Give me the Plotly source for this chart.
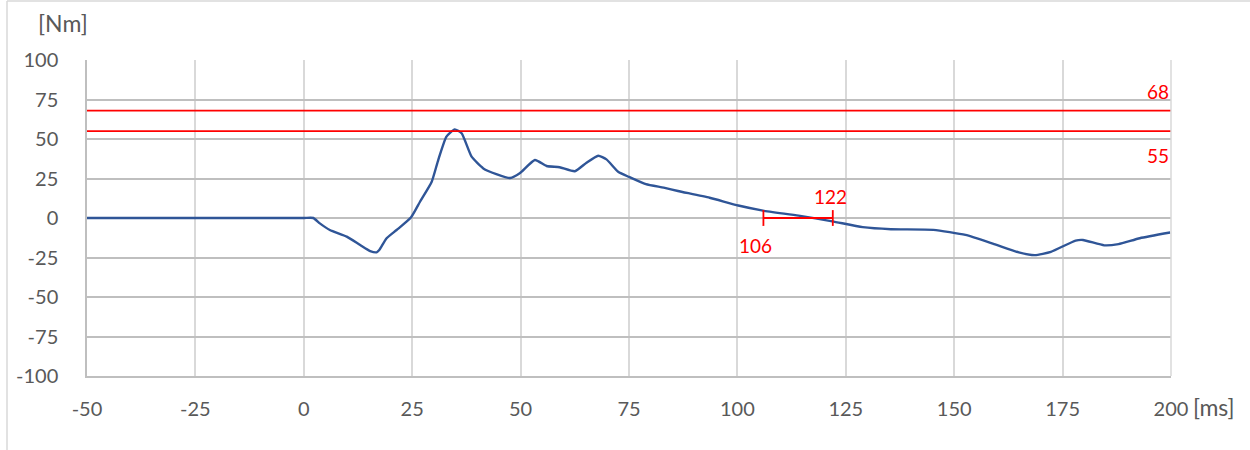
import plotly.graph_objects as go

# ---- data ----
time_ms = [-50, -25, 0, 2.2, 3.7, 6.0, 9.9, 13.0, 15.3, 16.8, 17.4, 19.1, 21.4, 24.7,
           26.8, 29.5, 31.0, 32.9, 34.8, 36.4, 38.7, 41.4, 44.4, 47.6, 49.8, 53.3,
           56.0, 59.0, 62.5, 65.2, 67.9, 69.8, 72.5, 75.0, 78.9, 83.0, 86.3, 93.6,
           100.2, 105.9, 114.1, 121.9, 128.9, 135.4, 145.2, 152.6, 159.2, 164.9,
           168.6, 172.3, 178.0, 179.7, 184.6, 187.9, 192.8, 199.8]
torque_nm = [0, 0, 0, 0, -3.4, -7.6, -11.8, -17.1, -20.9, -21.7, -20.3, -12.8, -7.6, 0.3,
             10.3, 23.0, 36.7, 51.5, 56.1, 53.6, 38.8, 31.4, 27.8, 25.3, 28.3, 36.7,
             32.9, 32.1, 29.6, 35.0, 39.4, 37.1, 29.3, 26.0, 21.4, 19.2, 17.1, 12.8,
             7.9, 4.7, 1.5, -2.1, -5.8, -7.1, -7.5, -10.7, -16.5, -21.8,
             -23.5, -21.4, -14.3, -13.9, -17.3, -16.5, -12.8, -9.2]

limit_levels = [68, 55]
limit_labels = ["68", "55"]
window_ms = [106, 122]
window_labels = ["106", "122"]

x_ticks = [-50, -25, 0, 25, 50, 75, 100, 125, 150, 175, 200]
y_ticks = [-100, -75, -50, -25, 0, 25, 50, 75, 100]

FONT = "Lato"
GRAY = "#595959"
RED = "#ff0000"
TICK_SIZE = 20
UNIT_SIZE = 23
RED_SIZE = 19

# plot-area geometry in page pixels
PL, PR, PT, PB = 87, 1171, 60, 376
PW, PH = PR - PL, PB - PT


def px_x(p):
    return (p - PL) / PW


def px_y(p):
    return (PB - p) / PH


fig = go.Figure()

fig.add_trace(go.Scatter(
    x=time_ms, y=torque_nm, mode="lines",
    line=dict(color="#2f5597", width=2.4, shape="spline", smoothing=0.5),
    showlegend=False, hoverinfo="skip"))

# threshold lines
for lvl in limit_levels:
    fig.add_trace(go.Scatter(
        x=[x_ticks[0], x_ticks[-1]], y=[lvl, lvl], mode="lines",
        line=dict(color=RED, width=1.8), showlegend=False, hoverinfo="skip"))

# time window bracket
fig.add_trace(go.Scatter(
    x=[window_ms[0], window_ms[1]], y=[0, 0], mode="lines",
    line=dict(color=RED, width=1.8), showlegend=False, hoverinfo="skip"))
for w in window_ms:
    fig.add_trace(go.Scatter(
        x=[w, w], y=[-5, 5], mode="lines",
        line=dict(color=RED, width=1.8), showlegend=False, hoverinfo="skip"))

annotations = []
# threshold labels
annotations.append(dict(x=x_ticks[-1], y=limit_levels[0], text=limit_labels[0],
                        xanchor="right", yanchor="middle", showarrow=False, yshift=19,
                        font=dict(family=FONT, size=RED_SIZE, color=RED)))
annotations.append(dict(x=x_ticks[-1], y=limit_levels[1], text=limit_labels[1],
                        xanchor="right", yanchor="middle", showarrow=False, yshift=-24,
                        font=dict(family=FONT, size=RED_SIZE, color=RED)))
# window labels
annotations.append(dict(x=window_ms[0], y=0, text=window_labels[0],
                        xanchor="center", yanchor="middle", showarrow=False, xshift=-8, yshift=-27,
                        font=dict(family=FONT, size=RED_SIZE, color=RED)))
annotations.append(dict(x=window_ms[1], y=0, text=window_labels[1],
                        xanchor="center", yanchor="middle", showarrow=False, xshift=-2, yshift=22,
                        font=dict(family=FONT, size=RED_SIZE, color=RED)))
# axis unit labels
annotations.append(dict(xref="paper", yref="paper", x=px_x(63), y=px_y(23),
                        text="[Nm]", showarrow=False, xanchor="center", yanchor="middle",
                        font=dict(family=FONT, size=UNIT_SIZE, color=GRAY)))
annotations.append(dict(xref="paper", yref="paper", x=px_x(1214), y=px_y(407),
                        text="[ms]", showarrow=False, xanchor="center", yanchor="middle",
                        font=dict(family=FONT, size=UNIT_SIZE, color=GRAY)))

shapes = [
    # outer chart frame (top and left edges visible)
    dict(type="line", xref="paper", yref="paper", x0=px_x(7), x1=px_x(1250),
         y0=px_y(1), y1=px_y(1), line=dict(color="#d9d9d9", width=1.5)),
    dict(type="line", xref="paper", yref="paper", x0=px_x(7), x1=px_x(7),
         y0=px_y(1), y1=px_y(450), line=dict(color="#d9d9d9", width=1.5)),
    # right border of plot area (lighter)
    dict(type="line", xref="paper", yref="paper", x0=1, x1=1, y0=0, y1=1,
         line=dict(color="#d9d9d9", width=1.5)),
]

fig.update_layout(
    width=1250, height=450,
    margin=dict(l=PL, r=1250 - PR, t=PT, b=450 - PB),
    paper_bgcolor="white", plot_bgcolor="white",
    font=dict(family=FONT, size=TICK_SIZE, color=GRAY),
    annotations=annotations, shapes=shapes,
    xaxis=dict(range=[x_ticks[0], x_ticks[-1]], tickvals=x_ticks,
               ticktext=[str(v) for v in x_ticks],
               showgrid=True, gridcolor="#d9d9d9", gridwidth=1.5,
               zeroline=False, showline=True, linecolor="#bfbfbf", linewidth=1.5,
               ticks="", ticklabelstandoff=14,
               tickfont=dict(family=FONT, size=TICK_SIZE, color=GRAY)),
    yaxis=dict(range=[y_ticks[0], y_ticks[-1]], tickvals=y_ticks,
               ticktext=[str(v) for v in y_ticks],
               showgrid=True, gridcolor="#bfbfbf", gridwidth=1.5,
               zeroline=False, showline=True, linecolor="#bfbfbf", linewidth=1.5,
               ticks="", ticklabelstandoff=23,
               tickfont=dict(family=FONT, size=TICK_SIZE, color=GRAY)),
)

fig.write_html("out.html", config={"displayModeBar": False},
               post_script="document.body.style.margin='0';")
